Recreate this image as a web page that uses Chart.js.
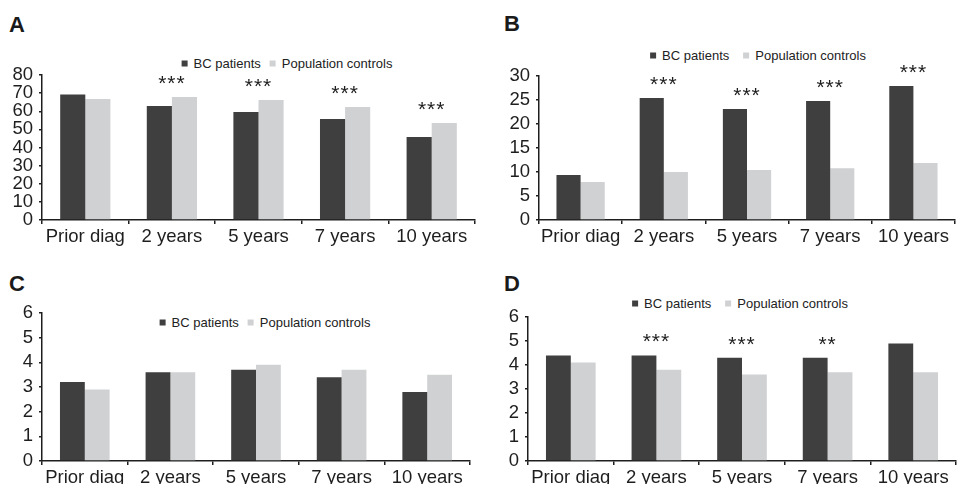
<!DOCTYPE html>
<html>
<head>
<meta charset="utf-8">
<script src="https://cdn.jsdelivr.net/npm/chart.js@4"></script>
<style>
  html, body { margin: 0; padding: 0; background: #fff; }
  body { position: relative; width: 957px; height: 484px; overflow: hidden;
         font-family: "Liberation Sans", Arial, sans-serif; color: #222; }
  canvas { position: absolute; }
  .letter { position: absolute; font-weight: bold; font-size: 22px; line-height: 22px; color: #1a1a1a; }
  .legend { position: absolute; transform: translate(-50%, -50%); font-size: 13px; white-space: nowrap;
            display: flex; align-items: center; color: #222; }
  .legend i { display: inline-block; width: 6px; height: 6px; margin-right: 6px; }
  .legend span { margin-right: 9px; }
</style>
</head>
<body>
<div class="letter" style="left:9px;top:14px">A</div>
<div class="letter" style="left:504px;top:13px">B</div>
<div class="letter" style="left:9px;top:273px">C</div>
<div class="letter" style="left:504px;top:273px">D</div>

<div class="legend" style="left:287px;top:63px"><i style="background:#3f3f3f"></i><span>BC patients</span><i style="background:#d0d1d3"></i>Population controls</div>
<div class="legend" style="left:758px;top:55px"><i style="background:#3f3f3f"></i><span style="margin-right:14px">BC patients</span><i style="background:#d0d1d3"></i>Population controls</div>
<div class="legend" style="left:265px;top:322px"><i style="background:#3f3f3f"></i><span>BC patients</span><i style="background:#d0d1d3"></i>Population controls</div>
<div class="legend" style="left:740px;top:303px"><i style="background:#3f3f3f"></i><span style="margin-right:14px">BC patients</span><i style="background:#d0d1d3"></i>Population controls</div>

<canvas id="chartA" width="480" height="250" style="left:0;top:0"></canvas>
<canvas id="chartB" width="477" height="250" style="left:480px;top:0"></canvas>
<canvas id="chartC" width="480" height="250" style="left:0;top:250px"></canvas>
<canvas id="chartD" width="477" height="250" style="left:480px;top:250px"></canvas>

<script>
// categories shared by all four panels
const categories = ['Prior diag', '2 years', '5 years', '7 years', '10 years'];
const seriesNames = ['BC patients', 'Population controls'];

// panel A
const patientsA = [69.3, 62.9, 59.6, 55.7, 45.8];
const controlsA = [66.8, 67.9, 66.2, 62.3, 53.5];
const sigA = ['', '***', '***', '***', '***'];
const yTicksA = [0, 10, 20, 30, 40, 50, 60, 70, 80];

// panel B
const patientsB = [9.4, 25.4, 23.1, 24.8, 27.9];
const controlsB = [7.9, 10.0, 10.4, 10.8, 11.9];
const sigB = ['', '***', '***', '***', '***'];
const yTicksB = [0, 5, 10, 15, 20, 25, 30];

// panel C
const patientsC = [3.2, 3.6, 3.7, 3.4, 2.8];
const controlsC = [2.9, 3.6, 3.9, 3.7, 3.5];
const sigC = ['', '', '', '', ''];
const yTicksC = [0, 1, 2, 3, 4, 5, 6];

// panel D
const patientsD = [4.4, 4.4, 4.3, 4.3, 4.9];
const controlsD = [4.1, 3.8, 3.6, 3.7, 3.7];
const sigD = ['', '***', '***', '**', ''];
const yTicksD = [0, 1, 2, 3, 4, 5, 6];

const darkColor = '#3f3f3f';
const lightColor = '#d0d1d3';
const inkColor = '#1e1e1e';
const fontFamily = '"Liberation Sans", Arial, sans-serif';

// draws the significance stars above each group
const sigPlugin = {
    id: 'sig',
    afterDatasetsDraw(chart, args, opts) {
        const ctx = chart.ctx;
        const x = chart.scales.x, y = chart.scales.y;
        ctx.save();
        ctx.font = '21px ' + fontFamily;
        ctx.fillStyle = inkColor;
        ctx.textAlign = 'center';
        ctx.textBaseline = 'alphabetic';
        if ('letterSpacing' in ctx) ctx.letterSpacing = '1px';
        opts.marks.forEach((m, i) => {
            if (!m) return;
            const top = Math.max(...chart.data.datasets.map(d => d.data[i]));
            ctx.fillText(m, x.getPixelForValue(i), y.getPixelForValue(top) - opts.gap);
        });
        ctx.restore();
    }
};

function makePanel(id, patients, controls, marks, yTicks, box) {
    const ctx = document.getElementById(id).getContext('2d');
    return new Chart(ctx, {
        type: 'bar',
        data: {
            labels: categories,
            datasets: [
                { label: seriesNames[0], data: patients, backgroundColor: darkColor },
                { label: seriesNames[1], data: controls, backgroundColor: lightColor }
            ]
        },
        options: {
            responsive: false,
            animation: false,
            devicePixelRatio: 1,
            categoryPercentage: 0.58,
            barPercentage: 1,
            layout: { padding: { top: box.padTop, right: box.padRight, left: 0, bottom: 0 } },
            plugins: {
                legend: { display: false },
                tooltip: { enabled: false },
                sig: { marks: marks, gap: 7 }
            },
            scales: {
                x: {
                    grid: { drawOnChartArea: false, tickLength: 4, color: inkColor, lineWidth: 1.5, offset: true },
                    border: { color: inkColor, width: 1.5 },
                    ticks: { color: inkColor, padding: 2, maxRotation: 0, autoSkip: false,
                             font: { family: fontFamily, size: 18.5 } },
                    afterFit: s => { s.height = box.xH; }
                },
                y: {
                    min: yTicks[0],
                    max: yTicks[yTicks.length - 1],
                    afterBuildTicks: s => { s.ticks = yTicks.map(v => ({ value: v })); },
                    grid: { drawOnChartArea: false, tickLength: 3, color: inkColor, lineWidth: 1.5 },
                    border: { color: inkColor, width: 1.5 },
                    ticks: { color: inkColor, padding: 6, autoSkip: false,
                             font: { family: fontFamily, size: 18.5 } },
                    afterFit: s => { s.width = box.yW; }
                }
            }
        },
        plugins: [sigPlugin]
    });
}

makePanel('chartA', patientsA, controlsA, sigA, yTicksA, { padTop: 75, padRight: 5, yW: 42, xH: 30 });
makePanel('chartB', patientsB, controlsB, sigB, yTicksB, { padTop: 76, padRight: 2, yW: 59, xH: 30 });
makePanel('chartC', patientsC, controlsC, sigC, yTicksC, { padTop: 63, padRight: 10, yW: 42, xH: 39 });
makePanel('chartD', patientsD, controlsD, sigD, yTicksD, { padTop: 67, padRight: 1, yW: 48, xH: 39 });
</script>
</body>
</html>
